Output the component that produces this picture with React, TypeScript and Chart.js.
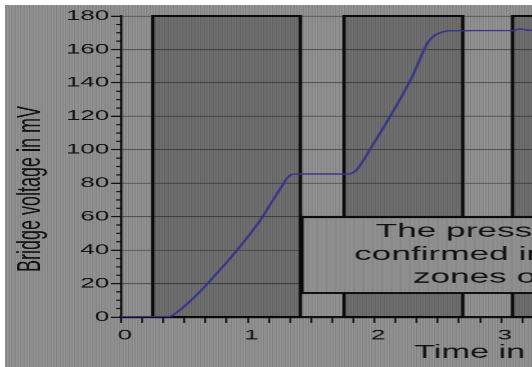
import React, { useEffect, useRef } from 'react';
import { Chart, registerables } from 'chart.js';

Chart.register(...registerables);

// ---- data ----
const times = [0, 0.2, 0.37, 0.4, 0.47, 0.61, 0.73, 0.86, 0.98, 1.1, 1.2, 1.28, 1.31, 1.35, 1.4, 1.6, 1.79, 1.83, 1.86, 2.0, 2.14, 2.3, 2.42, 2.46, 2.51, 2.6, 2.8, 3.1, 3.15, 3.2, 3.3];
const voltages = [0, 0, 0, 0.8, 4.5, 14.2, 24, 35, 46, 58, 70, 79.5, 83, 85.3, 85.5, 85.5, 85.5, 86.3, 88, 104.5, 122, 144, 164, 167.5, 169.7, 171.2, 171.3, 171.3, 172.3, 171.6, 171.5];
const zoneStarts = [0.25, 1.76, 3.09];
const zoneEnds = [1.415, 2.697, 4.3];
const noteLines = ['The pressure', 'confirmed in the', 'zones of'];
const xTitle = 'Time in sec';
const yTitle = 'Bridge voltage in mV';
const xMin = 0;
const xMax = 6;
const xMinorStep = 1 / 6;
const yMin = 0;
const yMax = 180;
const yMajorStep = 20;
const yMinorStep = 5;

// ---- layout / style ----
const SX = 1.85; // horizontal stretch of the original figure
const LW = 490;
const LH = 367;
const FONT = '"Liberation Sans", Arial, sans-serif';
const INK = '#111111';
const NOTE = { t0: 1.427, t1: 4.23, vTop: 59.8, vBottom: 14.35 };

const stripeBg =
  'repeating-linear-gradient(90deg, #8d8d8d 0px, #8d8d8d 1px, #858585 1px, #858585 2px, #939393 2px, #939393 3px, #8a8a8a 3px, #8a8a8a 5px, #959595 5px, #959595 6px, #828282 6px, #828282 7px, #8f8f8f 7px, #8f8f8f 9px)';

function makePattern(ctx: CanvasRenderingContext2D) {
  const c = document.createElement('canvas');
  const cols = ['#8e8e8e', '#868686', '#949494', '#8a8a8a', '#909090'];
  c.width = cols.length;
  c.height = 1;
  const g = c.getContext('2d')!;
  cols.forEach((col, i) => {
    g.fillStyle = col;
    g.fillRect(i, 0, 1, 1);
  });
  return ctx.createPattern(c, 'repeat');
}

const decor = {
  id: 'decor',
  beforeDatasetsDraw(chart: any) {
    const { ctx, chartArea, scales } = chart;
    const x = scales.x;
    const y = scales.y;
    ctx.save();
    const yt = y.getPixelForValue(yMax);
    const yb = y.getPixelForValue(yMin);
    for (let i = 0; i < zoneStarts.length; i++) {
      const x0 = x.getPixelForValue(zoneStarts[i]);
      const x1 = x.getPixelForValue(zoneEnds[i]);
      ctx.fillStyle = 'rgba(0,0,0,0.24)';
      ctx.fillRect(x0, yt, x1 - x0, yb - yt);
      ctx.strokeStyle = '#0a0a0a';
      ctx.lineWidth = 1.8;
      ctx.strokeRect(x0, yt, x1 - x0, yb - yt);
    }
    // minor y ticks
    ctx.strokeStyle = INK;
    ctx.lineWidth = 1.2;
    for (let v = yMin; v <= yMax; v += yMinorStep) {
      if (v % yMajorStep === 0) continue;
      const py = y.getPixelForValue(v);
      ctx.beginPath();
      ctx.moveTo(chartArea.left, py);
      ctx.lineTo(chartArea.left - 2.7, py);
      ctx.stroke();
    }
    ctx.restore();
  },
  afterDatasetsDraw(chart: any) {
    const { ctx, scales } = chart;
    const x = scales.x;
    const y = scales.y;
    const x0 = x.getPixelForValue(NOTE.t0);
    const x1 = x.getPixelForValue(NOTE.t1);
    const y0 = y.getPixelForValue(NOTE.vTop);
    const y1 = y.getPixelForValue(NOTE.vBottom);
    ctx.save();
    ctx.fillStyle = makePattern(ctx) || '#8c8c8c';
    ctx.fillRect(x0, y0, x1 - x0, y1 - y0);
    ctx.strokeStyle = '#0a0a0a';
    ctx.lineWidth = 2;
    ctx.strokeRect(x0, y0, x1 - x0, y1 - y0);
    ctx.fillStyle = INK;
    ctx.font = `19px ${FONT}`;
    ctx.textAlign = 'center';
    ctx.textBaseline = 'alphabetic';
    const cx = (x0 + x1) / 2;
    const offs = [19.7, 43, 65.7];
    noteLines.forEach((line, i) => ctx.fillText(line, cx, y0 + offs[i]));
    ctx.restore();
  },
};

export default function App() {
  const ref = useRef<HTMLCanvasElement>(null);
  useEffect(() => {
    if (!ref.current) return;
    const chart = new Chart(ref.current, {
      type: 'line',
      data: {
        datasets: [
          {
            data: times.map((t, i) => ({ x: t, y: voltages[i] })),
            borderColor: '#36368c',
            borderWidth: 1.5,
            pointRadius: 0,
            fill: false,
            cubicInterpolationMode: 'monotone',
          },
        ],
      },
      options: {
        animation: false,
        responsive: false,
        devicePixelRatio: SX,
        events: [],
        layout: { padding: { left: 0, right: 14.3, top: 16, bottom: 0 } },
        plugins: { legend: { display: false }, tooltip: { enabled: false } },
        scales: {
          x: {
            type: 'linear',
            min: xMin,
            max: xMax,
            afterFit: (s: any) => {
              s.height = 50;
            },
            grid: { drawOnChartArea: false, drawTicks: true, tickLength: 6, tickWidth: 1, tickColor: INK },
            border: { display: true, color: INK, width: 2 },
            ticks: {
              stepSize: xMinorStep,
              autoSkip: false,
              maxRotation: 0,
              color: INK,
              padding: 4,
              labelOffset: 2,
              font: { family: FONT, size: 14 },
              callback: (val: any) => {
                const v = Number(val);
                return Math.abs(v - Math.round(v)) < 1e-6 ? String(Math.round(v)) : '';
              },
            },
            title: {
              display: true,
              text: xTitle,
              color: INK,
              font: { family: FONT, size: 18.5 },
              padding: { top: 0, bottom: 3 },
            },
          },
          y: {
            type: 'linear',
            min: yMin,
            max: yMax,
            afterFit: (s: any) => {
              s.width = 65.4;
            },
            grid: { color: 'rgba(45,45,45,0.6)', lineWidth: 1, tickLength: 5.4, tickColor: INK, tickWidth: 1.2 },
            border: { display: true, color: INK, width: 1.2 },
            ticks: {
              stepSize: yMajorStep,
              color: INK,
              padding: 1,
              font: { family: FONT, size: 14 },
            },
            title: {
              display: true,
              text: yTitle + '         ',
              color: INK,
              font: { family: FONT, size: 18 },
              padding: { top: 6, bottom: 0 },
            },
          },
        },
      },
      plugins: [decor],
    } as any);
    return () => chart.destroy();
  }, []);

  return (
    <div style={{ position: 'fixed', left: 0, top: 0, width: 532, height: 367, background: '#ffffff', overflow: 'hidden' }}>
      <div style={{ position: 'absolute', left: 5, top: 5, right: 0, bottom: 0, background: stripeBg }} />
      <canvas
        ref={ref}
        width={LW}
        height={LH}
        style={{ position: 'absolute', left: 0, top: 0, width: `${LW * SX}px`, height: `${LH}px` }}
      />
    </div>
  );
}
